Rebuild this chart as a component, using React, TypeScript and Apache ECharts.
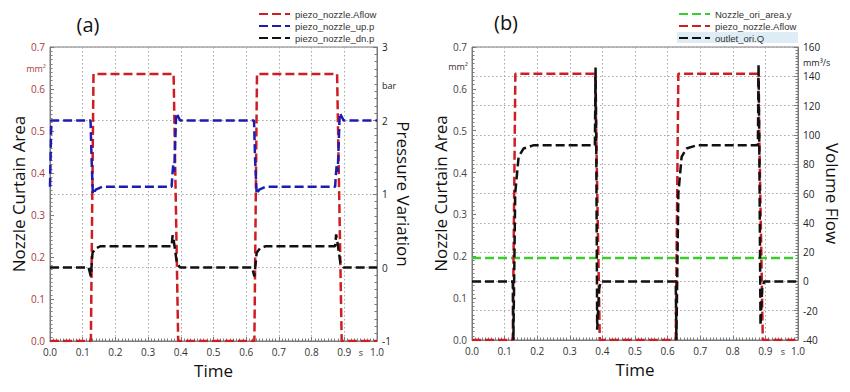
import React, { useEffect, useRef } from "react";
import * as echarts from "echarts";

// ---- data ----
const timeAflow = [0, 0.125, 0.133, 0.378, 0.392, 0.625, 0.633, 0.878, 0.892, 1.0];
const aflow = [0, 0, 0.636, 0.636, 0, 0, 0.636, 0.636, 0, 0];

const timeUp = [0, 0.004, 0.124, 0.127, 0.131, 0.14, 0.16, 0.372, 0.374, 0.377, 0.38, 0.386, 0.39, 0.398, 0.624, 0.627, 0.632, 0.64, 0.66, 0.872, 0.874, 0.877, 0.88, 0.886, 0.89, 0.898, 1.0];
const pressureUp = [1.1, 2.0, 2.0, 1.5, 1.0, 1.06, 1.1, 1.1, 1.25, 1.4, 1.3, 2.1, 2.07, 2.0, 2.0, 1.5, 1.0, 1.06, 1.1, 1.1, 1.25, 1.4, 1.3, 2.1, 2.07, 2.0, 2.0];

const timeDn = [0, 0.118, 0.125, 0.13, 0.14, 0.155, 0.372, 0.375, 0.378, 0.388, 0.398, 0.618, 0.625, 0.632, 0.642, 0.66, 0.872, 0.875, 0.878, 0.888, 0.898, 1.0];
const pressureDn = [0, 0, -0.12, 0.2, 0.26, 0.29, 0.29, 0.44, 0.38, 0.06, 0, 0, -0.12, 0.2, 0.26, 0.29, 0.29, 0.45, 0.38, 0.06, 0, 0];

const timeArea = [0, 1];
const oriArea = [0.196, 0.196];

const timeQ = [0, 0.125, 0.127, 0.1325, 0.143, 0.158, 0.19, 0.377, 0.379, 0.381, 0.384, 0.39, 0.395, 0.625, 0.627, 0.633, 0.643, 0.658, 0.69, 0.877, 0.879, 0.881, 0.885, 0.89, 0.896, 1.0];
const flowQ = [0, 0, -40, 60, 85, 90.7, 93, 93, 146, 100, -33, -5, 0, 0, -40, 60, 85, 90.7, 93, 93, 148, 100, -30, -5, 0, 0];

const legendA = ["piezo_nozzle.Aflow", "piezo_nozzle_up.p", "piezo_nozzle_dn.p"];
const legendB = ["Nozzle_ori_area.y", "piezo_nozzle.Aflow", "outlet_ori.Q"];

const FONT = "'Open Sans', 'Noto Sans', sans-serif";
const RED = "#d01c22";
const BLUE = "#1c1cb0";
const BLACK = "#111111";
const GREEN = "#3ccc2c";
const AXIS = "#7a7a7a";

const zip = (t: number[], v: number[]) => t.map((x, i) => [x, v[i]]);

export default function App() {
  const ref = useRef<HTMLDivElement>(null);
  useEffect(() => {
    if (!ref.current) return;
    const chart = echarts.init(ref.current, null, { renderer: "svg" });

    const xAxisBase = (i: number) => ({
      type: "value",
      gridIndex: i,
      min: 0,
      max: 1,
      interval: 0.1,
      axisLine: { show: true, lineStyle: { color: AXIS } },
      axisTick: { show: true, inside: true, length: 4, lineStyle: { color: AXIS } },
      minorTick: { show: true, splitNumber: 10, length: 2.5, lineStyle: { color: AXIS } },
      axisLabel: { formatter: (v: number) => v.toFixed(1), fontSize: 10, color: "#333", margin: 6, fontFamily: FONT },
      splitLine: { show: true, lineStyle: { type: [1.5, 2.5], color: "#a8a8a8" } },
      name: "Time",
      nameLocation: "middle",
      nameGap: 15,
      nameTextStyle: { fontSize: 17, color: "#111", fontFamily: FONT },
    });

    const yLeft = (i: number, color: string, gap: number) => ({
      type: "value",
      gridIndex: i,
      position: "left",
      min: 0,
      max: 0.7,
      interval: 0.1,
      axisLine: { show: true, lineStyle: { color: AXIS } },
      axisTick: { show: true, inside: true, length: 4, lineStyle: { color: AXIS } },
      minorTick: { show: true, splitNumber: 10, length: 2.5, lineStyle: { color: AXIS } },
      axisLabel: { formatter: (v: number) => v.toFixed(1), fontSize: 10, color, margin: 5, fontFamily: FONT },
      splitLine: { show: false },
      name: "Nozzle Curtain Area",
      nameLocation: "middle",
      nameGap: gap,
      nameTextStyle: { fontSize: 17, color: "#111", fontFamily: FONT },
    });

    const yRight = (i: number, min: number, max: number, interval: number, name: string, gap: number) => ({
      type: "value",
      gridIndex: i,
      position: "right",
      min,
      max,
      interval,
      axisLine: { show: true, lineStyle: { color: AXIS } },
      axisTick: { show: true, inside: true, length: 4, lineStyle: { color: AXIS } },
      minorTick: { show: true, splitNumber: 10, length: 2.5, lineStyle: { color: AXIS } },
      axisLabel: { fontSize: 10, color: "#222", margin: 5, fontFamily: FONT },
      splitLine: { show: true, lineStyle: { type: [1.5, 2.5], color: "#a8a8a8" } },
      name,
      nameLocation: "middle",
      nameRotate: -90,
      nameGap: gap,
      nameTextStyle: { fontSize: 17, color: "#111", fontFamily: FONT },
    });

    const lineSeries = (name: string, xi: number, yi: number, data: number[][], color: string) => ({
      name,
      type: "line",
      xAxisIndex: xi,
      yAxisIndex: yi,
      data,
      symbol: "none",
      lineStyle: { color, width: 2.5, type: [9, 4] },
      itemStyle: { color },
    });

    const legendBase = (data: string[], left: number) => ({
      data,
      orient: "vertical",
      left,
      top: 9,
      itemWidth: 31,
      itemHeight: 10,
      itemGap: 2,
      padding: 0,
      itemStyle: { opacity: 0 },
      textStyle: { fontSize: 9.5, color: "#333", fontFamily: "'Liberation Sans', Arial, sans-serif" },
    });

    const option = {
      animation: false,
      backgroundColor: "#ffffff",
      textStyle: { fontFamily: FONT },
      grid: [
        { left: 50, top: 47, width: 327, height: 294, show: true, borderColor: AXIS, borderWidth: 1, backgroundColor: "transparent" },
        { left: 472, top: 47, width: 326, height: 293, show: true, borderColor: AXIS, borderWidth: 1, backgroundColor: "transparent" },
      ],
      xAxis: [xAxisBase(0), xAxisBase(1)],
      yAxis: [
        yLeft(0, "#a83a3a", 19),
        yRight(0, -1, 3, 1, "Pressure Variation", 8),
        yLeft(1, "#444", 20),
        yRight(1, -40, 160, 20, "Volume Flow", 8),
      ],
      legend: [legendBase(legendA, 258), legendBase(legendB, 678)],
      graphic: [
        { type: "rect", z: 1, shape: { x: 677, y: 32, width: 121, height: 11 }, style: { fill: "#deedf5" } },
        { type: "text", x: 88, y: 24, style: { text: "(a)", fontSize: 20, fill: "#111", fontFamily: FONT, textAlign: "center", textVerticalAlign: "middle" } },
        { type: "text", x: 506, y: 22, style: { text: "(b)", fontSize: 20, fill: "#111", fontFamily: FONT, textAlign: "center", textVerticalAlign: "middle" } },
        { type: "text", x: 46, y: 68, style: { text: "mm²", fontSize: 9, fill: "#a83a3a", fontFamily: FONT, textAlign: "right", textVerticalAlign: "middle" } },
        { type: "text", x: 382, y: 85, style: { text: "bar", fontSize: 9, fill: "#222", fontFamily: FONT, textAlign: "left", textVerticalAlign: "middle" } },
        { type: "text", x: 361, y: 352, style: { text: "s", fontSize: 9, fill: "#333", fontFamily: FONT, textAlign: "center", textVerticalAlign: "middle" } },
        { type: "text", x: 468, y: 66, style: { text: "mm²", fontSize: 9, fill: "#333", fontFamily: FONT, textAlign: "right", textVerticalAlign: "middle" } },
        { type: "text", x: 803, y: 62, style: { text: "mm³/s", fontSize: 9, fill: "#222", fontFamily: FONT, textAlign: "left", textVerticalAlign: "middle" } },
        { type: "text", x: 783, y: 351, style: { text: "s", fontSize: 9, fill: "#333", fontFamily: FONT, textAlign: "center", textVerticalAlign: "middle" } },
      ],
      series: [
        lineSeries("piezo_nozzle.Aflow", 0, 0, zip(timeAflow, aflow), RED),
        lineSeries("piezo_nozzle_up.p", 0, 1, zip(timeUp, pressureUp), BLUE),
        lineSeries("piezo_nozzle_dn.p", 0, 1, zip(timeDn, pressureDn), BLACK),
        lineSeries("Nozzle_ori_area.y", 1, 2, zip(timeArea, oriArea), GREEN),
        lineSeries("piezo_nozzle.Aflow", 1, 2, zip(timeAflow, aflow), RED),
        lineSeries("outlet_ori.Q", 1, 3, zip(timeQ, flowQ), BLACK),
      ],
    };
    chart.setOption(option as any);
    return () => chart.dispose();
  }, []);
  return <div ref={ref} style={{ position: "fixed", left: 0, top: 0, width: 850, height: 392, background: "#fff" }} />;
}
